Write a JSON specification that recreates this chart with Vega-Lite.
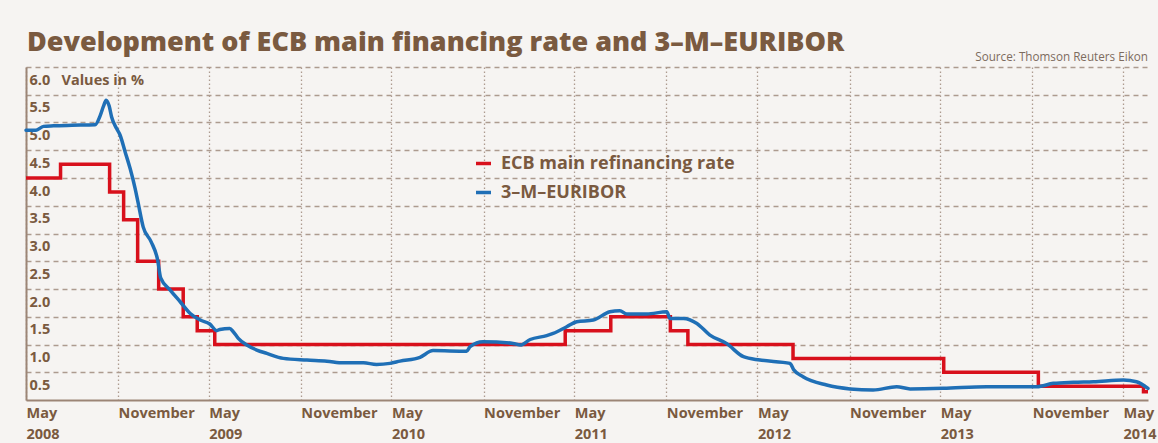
{
  "$schema": "https://vega.github.io/schema/vega-lite/v6.json",
  "autosize": {"type": "none"},
  "width": 1122,
  "height": 333,
  "padding": {"left": 26, "top": 67, "right": 10, "bottom": 43},
  "background": "#f6f4f2",
  "title": {
    "text": "Development of ECB main financing rate and 3–M–EURIBOR",
    "anchor": "start",
    "frame": "group",
    "font": "Open Sans",
    "fontSize": 27,
    "fontWeight": 800,
    "color": "#7a5a40",
    "offset": -5,
    "dx": 1
  },
  "config": {
    "view": {"stroke": null},
    "legend": {
      "orient": "none",
      "legendX": 448,
      "legendY": 87,
      "padding": 0,
      "symbolType": "stroke",
      "symbolSize": 225,
      "symbolStrokeWidth": 3.5,
      "labelFont": "Open Sans",
      "labelFontSize": 18,
      "labelFontWeight": "bold",
      "labelColor": "#7a5a40",
      "labelOffset": 8,
      "labelLimit": 500,
      "rowPadding": 10
    }
  },
  "datasets": {
    "ecb": [
      {"date": "2008-05-01", "value": 4.0, "series": "ECB main refinancing rate"},
      {"date": "2008-07-09", "value": 4.25, "series": "ECB main refinancing rate"},
      {"date": "2008-10-15", "value": 3.75, "series": "ECB main refinancing rate"},
      {"date": "2008-11-12", "value": 3.25, "series": "ECB main refinancing rate"},
      {"date": "2008-12-10", "value": 2.5, "series": "ECB main refinancing rate"},
      {"date": "2009-01-21", "value": 2.0, "series": "ECB main refinancing rate"},
      {"date": "2009-03-11", "value": 1.5, "series": "ECB main refinancing rate"},
      {"date": "2009-04-08", "value": 1.25, "series": "ECB main refinancing rate"},
      {"date": "2009-05-13", "value": 1.0, "series": "ECB main refinancing rate"},
      {"date": "2011-04-13", "value": 1.25, "series": "ECB main refinancing rate"},
      {"date": "2011-07-13", "value": 1.5, "series": "ECB main refinancing rate"},
      {"date": "2011-11-09", "value": 1.25, "series": "ECB main refinancing rate"},
      {"date": "2011-12-14", "value": 1.0, "series": "ECB main refinancing rate"},
      {"date": "2012-07-11", "value": 0.75, "series": "ECB main refinancing rate"},
      {"date": "2013-05-08", "value": 0.5, "series": "ECB main refinancing rate"},
      {"date": "2013-11-13", "value": 0.25, "series": "ECB main refinancing rate"},
      {"date": "2014-06-11", "value": 0.15, "series": "ECB main refinancing rate"},
      {"date": "2014-06-20", "value": 0.15, "series": "ECB main refinancing rate"}
    ],
    "euribor": [
      {"date": "2008-05-01", "value": 4.86, "series": "3–M–EURIBOR"},
      {"date": "2008-05-20", "value": 4.86, "series": "3–M–EURIBOR"},
      {"date": "2008-06-05", "value": 4.93, "series": "3–M–EURIBOR"},
      {"date": "2008-06-25", "value": 4.94, "series": "3–M–EURIBOR"},
      {"date": "2008-08-01", "value": 4.95, "series": "3–M–EURIBOR"},
      {"date": "2008-09-16", "value": 4.96, "series": "3–M–EURIBOR"},
      {"date": "2008-09-26", "value": 5.12, "series": "3–M–EURIBOR"},
      {"date": "2008-10-03", "value": 5.3, "series": "3–M–EURIBOR"},
      {"date": "2008-10-08", "value": 5.4, "series": "3–M–EURIBOR"},
      {"date": "2008-10-14", "value": 5.3, "series": "3–M–EURIBOR"},
      {"date": "2008-10-19", "value": 5.1, "series": "3–M–EURIBOR"},
      {"date": "2008-10-29", "value": 4.89, "series": "3–M–EURIBOR"},
      {"date": "2008-11-05", "value": 4.77, "series": "3–M–EURIBOR"},
      {"date": "2008-11-15", "value": 4.47, "series": "3–M–EURIBOR"},
      {"date": "2008-11-25", "value": 4.17, "series": "3–M–EURIBOR"},
      {"date": "2008-12-05", "value": 3.81, "series": "3–M–EURIBOR"},
      {"date": "2008-12-11", "value": 3.55, "series": "3–M–EURIBOR"},
      {"date": "2008-12-21", "value": 3.12, "series": "3–M–EURIBOR"},
      {"date": "2009-01-06", "value": 2.85, "series": "3–M–EURIBOR"},
      {"date": "2009-01-19", "value": 2.52, "series": "3–M–EURIBOR"},
      {"date": "2009-01-25", "value": 2.2, "series": "3–M–EURIBOR"},
      {"date": "2009-02-13", "value": 1.98, "series": "3–M–EURIBOR"},
      {"date": "2009-03-05", "value": 1.77, "series": "3–M–EURIBOR"},
      {"date": "2009-03-25", "value": 1.56, "series": "3–M–EURIBOR"},
      {"date": "2009-04-14", "value": 1.44, "series": "3–M–EURIBOR"},
      {"date": "2009-05-03", "value": 1.37, "series": "3–M–EURIBOR"},
      {"date": "2009-05-17", "value": 1.25, "series": "3–M–EURIBOR"},
      {"date": "2009-05-23", "value": 1.27, "series": "3–M–EURIBOR"},
      {"date": "2009-06-12", "value": 1.29, "series": "3–M–EURIBOR"},
      {"date": "2009-06-19", "value": 1.23, "series": "3–M–EURIBOR"},
      {"date": "2009-06-29", "value": 1.11, "series": "3–M–EURIBOR"},
      {"date": "2009-07-16", "value": 0.99, "series": "3–M–EURIBOR"},
      {"date": "2009-08-05", "value": 0.9, "series": "3–M–EURIBOR"},
      {"date": "2009-08-25", "value": 0.84, "series": "3–M–EURIBOR"},
      {"date": "2009-09-27", "value": 0.75, "series": "3–M–EURIBOR"},
      {"date": "2009-11-13", "value": 0.72, "series": "3–M–EURIBOR"},
      {"date": "2009-12-23", "value": 0.7, "series": "3–M–EURIBOR"},
      {"date": "2010-01-25", "value": 0.67, "series": "3–M–EURIBOR"},
      {"date": "2010-03-06", "value": 0.67, "series": "3–M–EURIBOR"},
      {"date": "2010-04-01", "value": 0.64, "series": "3–M–EURIBOR"},
      {"date": "2010-04-28", "value": 0.66, "series": "3–M–EURIBOR"},
      {"date": "2010-05-18", "value": 0.7, "series": "3–M–EURIBOR"},
      {"date": "2010-06-27", "value": 0.77, "series": "3–M–EURIBOR"},
      {"date": "2010-07-23", "value": 0.89, "series": "3–M–EURIBOR"},
      {"date": "2010-09-28", "value": 0.88, "series": "3–M–EURIBOR"},
      {"date": "2010-10-05", "value": 0.96, "series": "3–M–EURIBOR"},
      {"date": "2010-10-31", "value": 1.05, "series": "3–M–EURIBOR"},
      {"date": "2010-12-30", "value": 1.02, "series": "3–M–EURIBOR"},
      {"date": "2011-01-13", "value": 0.99, "series": "3–M–EURIBOR"},
      {"date": "2011-02-02", "value": 1.09, "series": "3–M–EURIBOR"},
      {"date": "2011-03-07", "value": 1.16, "series": "3–M–EURIBOR"},
      {"date": "2011-03-20", "value": 1.2, "series": "3–M–EURIBOR"},
      {"date": "2011-04-16", "value": 1.32, "series": "3–M–EURIBOR"},
      {"date": "2011-05-06", "value": 1.41, "series": "3–M–EURIBOR"},
      {"date": "2011-06-08", "value": 1.44, "series": "3–M–EURIBOR"},
      {"date": "2011-07-11", "value": 1.59, "series": "3–M–EURIBOR"},
      {"date": "2011-07-31", "value": 1.61, "series": "3–M–EURIBOR"},
      {"date": "2011-08-14", "value": 1.55, "series": "3–M–EURIBOR"},
      {"date": "2011-09-23", "value": 1.55, "series": "3–M–EURIBOR"},
      {"date": "2011-11-02", "value": 1.59, "series": "3–M–EURIBOR"},
      {"date": "2011-11-08", "value": 1.47, "series": "3–M–EURIBOR"},
      {"date": "2011-12-05", "value": 1.47, "series": "3–M–EURIBOR"},
      {"date": "2012-01-01", "value": 1.38, "series": "3–M–EURIBOR"},
      {"date": "2012-01-27", "value": 1.17, "series": "3–M–EURIBOR"},
      {"date": "2012-02-29", "value": 1.02, "series": "3–M–EURIBOR"},
      {"date": "2012-04-03", "value": 0.78, "series": "3–M–EURIBOR"},
      {"date": "2012-05-06", "value": 0.72, "series": "3–M–EURIBOR"},
      {"date": "2012-07-05", "value": 0.66, "series": "3–M–EURIBOR"},
      {"date": "2012-07-12", "value": 0.55, "series": "3–M–EURIBOR"},
      {"date": "2012-07-31", "value": 0.42, "series": "3–M–EURIBOR"},
      {"date": "2012-09-16", "value": 0.27, "series": "3–M–EURIBOR"},
      {"date": "2012-11-02", "value": 0.2, "series": "3–M–EURIBOR"},
      {"date": "2012-12-18", "value": 0.18, "series": "3–M–EURIBOR"},
      {"date": "2013-02-03", "value": 0.24, "series": "3–M–EURIBOR"},
      {"date": "2013-03-02", "value": 0.2, "series": "3–M–EURIBOR"},
      {"date": "2013-05-07", "value": 0.21, "series": "3–M–EURIBOR"},
      {"date": "2013-08-02", "value": 0.24, "series": "3–M–EURIBOR"},
      {"date": "2013-11-10", "value": 0.24, "series": "3–M–EURIBOR"},
      {"date": "2013-12-13", "value": 0.3, "series": "3–M–EURIBOR"},
      {"date": "2014-01-22", "value": 0.32, "series": "3–M–EURIBOR"},
      {"date": "2014-03-03", "value": 0.33, "series": "3–M–EURIBOR"},
      {"date": "2014-05-02", "value": 0.36, "series": "3–M–EURIBOR"},
      {"date": "2014-05-28", "value": 0.33, "series": "3–M–EURIBOR"},
      {"date": "2014-06-20", "value": 0.21, "series": "3–M–EURIBOR"}
    ],
    "source": [
      {"note": "Source: Thomson Reuters Eikon"}
    ]
  },
  "layer": [
    {
      "data": {"name": "ecb"},
      "mark": {"type": "line", "interpolate": "step-after", "strokeWidth": 3.5, "strokeJoin": "miter", "strokeCap": "butt"},
      "encoding": {
        "x": {
          "field": "date",
          "type": "temporal",
          "scale": {"type": "utc", "domain": [{"year": 2008, "month": 5, "date": 1, "utc": true}, {"year": 2014, "month": 6, "date": 20, "utc": true}], "nice": false},
          "axis": {
            "title": null,
            "tickCount": 40,
            "values": [
              {"year": 2008, "month": 5, "date": 1, "utc": true},
              {"year": 2008, "month": 11, "date": 1, "utc": true},
              {"year": 2009, "month": 5, "date": 1, "utc": true},
              {"year": 2009, "month": 11, "date": 1, "utc": true},
              {"year": 2010, "month": 5, "date": 1, "utc": true},
              {"year": 2010, "month": 11, "date": 1, "utc": true},
              {"year": 2011, "month": 5, "date": 1, "utc": true},
              {"year": 2011, "month": 11, "date": 1, "utc": true},
              {"year": 2012, "month": 5, "date": 1, "utc": true},
              {"year": 2012, "month": 11, "date": 1, "utc": true},
              {"year": 2013, "month": 5, "date": 1, "utc": true},
              {"year": 2013, "month": 11, "date": 1, "utc": true},
              {"year": 2014, "month": 5, "date": 1, "utc": true}
            ],
            "labelExpr": "utcmonth(datum.value) == 4 ? ['May', '' + utcyear(datum.value)] : 'November'",
            "labelAlign": "left",
            "labelBaseline": "top",
            "labelFont": "Open Sans",
            "labelFontSize": 14.5,
            "labelFontWeight": "bold",
            "labelColor": "#7a5a40",
            "labelPadding": 6,
            "labelLineHeight": 21,
            "labelFlush": false,
            "labelOverlap": false,
            "ticks": false,
            "tickSize": 0,
            "grid": true,
            "gridDash": [1.5, 2.5],
            "gridColor": "#ad9b8f",
            "gridWidth": 1.3,
            "domainColor": "#9c8576",
            "domainWidth": 2
          }
        },
        "y": {
          "field": "value",
          "type": "quantitative",
          "scale": {"domain": [0, 6], "nice": false},
          "axis": {
            "title": null,
            "tickCount": 40,
            "values": [0.5, 1, 1.5, 2, 2.5, 3, 3.5, 4, 4.5, 5, 5.5, 6],
            "labelExpr": "datum.value == 6 ? '6.0\u00a0\u00a0\u00a0Values in %' : format(datum.value, '.1f')",
            "labelAlign": "left",
            "labelBaseline": "top",
            "labelPadding": -3,
            "labelOffset": 6,
            "labelOverlap": false,
            "labelFlush": false,
            "labelFont": "Open Sans",
            "labelFontSize": 14.5,
            "labelFontWeight": "bold",
            "labelColor": "#7a5a40",
            "ticks": false,
            "tickSize": 0,
            "grid": true,
            "gridDash": [5, 4],
            "gridColor": "#ad9b8f",
            "gridWidth": 1.5,
            "domainColor": "#9c8576",
            "domainWidth": 2
          }
        },
        "color": {
          "field": "series",
          "type": "nominal",
          "scale": {"domain": ["ECB main refinancing rate", "3–M–EURIBOR"], "range": ["#d8101c", "#1f6fb6"]},
          "legend": {"title": null}
        }
      }
    },
    {
      "data": {"name": "euribor"},
      "mark": {"type": "line", "interpolate": "monotone", "strokeWidth": 3.5, "strokeJoin": "round", "strokeCap": "round"},
      "encoding": {
        "x": {"field": "date", "type": "temporal"},
        "y": {"field": "value", "type": "quantitative"},
        "color": {"field": "series", "type": "nominal"}
      }
    },
    {
      "data": {"name": "source"},
      "mark": {"type": "text", "align": "right", "baseline": "alphabetic", "dy": -6, "font": "Open Sans", "fontSize": 11.7, "color": "#7d6b5e"},
      "encoding": {
        "x": {"datum": {"year": 2014, "month": 6, "date": 20, "utc": true}, "type": "temporal"},
        "y": {"datum": 6, "type": "quantitative"},
        "text": {"field": "note"}
      }
    }
  ]
}
